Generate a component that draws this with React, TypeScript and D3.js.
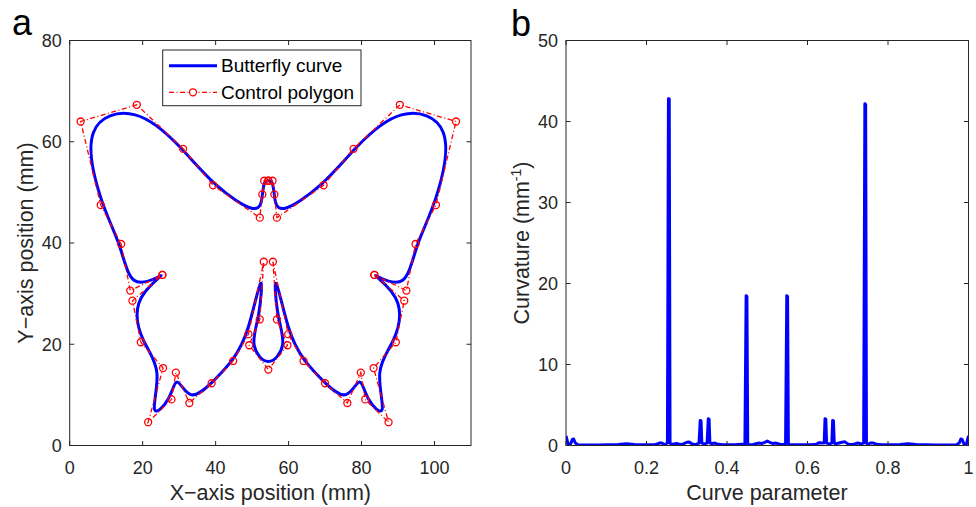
import React from "react";
import * as d3 from "d3";

// control polygon of the butterfly (mm)
const polyX = [
  54.45, 53.3, 52.8, 52.1, 39.3, 31.1, 18.4, 3.0, 8.5, 14.1, 16.6, 25.4, 25.4, 17.2, 19.5, 25.6, 21.5, 27.9, 29.1, 32.8,
  38.9, 44.8, 49.0, 53.2, 52.1, 49.2, 54.45, 59.7, 56.8, 55.7, 59.9, 64.1, 70.0, 76.1, 79.8, 81.0, 87.4, 83.3, 89.4,
  91.7, 83.5, 83.5, 92.3, 94.8, 100.4, 105.9, 90.5, 77.8, 69.6, 56.8, 56.1, 55.6, 54.45,
];
const polyY = [
  52.3, 52.3, 49.6, 45.0, 51.4, 58.6, 67.3, 64.0, 47.5, 39.8, 30.6, 33.7, 33.7, 28.6, 20.4, 15.3, 4.6, 9.1, 14.4, 8.4,
  12.3, 16.7, 22.0, 36.3, 24.9, 19.8, 15.0, 19.8, 24.9, 36.3, 22.0, 16.7, 12.3, 8.4, 14.4, 9.1, 4.6, 15.3, 20.4,
  28.6, 33.7, 33.7, 30.6, 39.8, 47.5, 64.0, 67.3, 58.6, 51.4, 45.0, 49.6, 52.3, 52.3,
];

// curvature vs curve parameter
const kT = [
  0, 0.005, 0.011, 0.016, 0.019, 0.023, 0.03, 0.08, 0.13, 0.15, 0.17, 0.22, 0.232, 0.238, 0.245, 0.252, 0.2545, 0.2565,
  0.2585, 0.262, 0.268, 0.275, 0.283, 0.292, 0.3, 0.306, 0.313, 0.322, 0.3305, 0.3335, 0.3355, 0.3375, 0.344, 0.3505,
  0.3535, 0.3555, 0.3575, 0.363, 0.37, 0.378, 0.39, 0.42, 0.4445, 0.4475, 0.4495, 0.4515, 0.4545, 0.465, 0.478, 0.487,
  0.494, 0.5, 0.506, 0.513, 0.522, 0.535, 0.5455, 0.5485, 0.5505, 0.5525, 0.5555, 0.58, 0.61, 0.622, 0.629, 0.636,
  0.6415, 0.6435, 0.6455, 0.6475, 0.654, 0.6605, 0.6625, 0.6645, 0.6665, 0.67, 0.678, 0.686, 0.693, 0.7, 0.708, 0.717,
  0.725, 0.733, 0.7395, 0.7425, 0.7445, 0.7465, 0.7495, 0.756, 0.764, 0.772, 0.785, 0.83, 0.85, 0.87, 0.92, 0.97,
  0.977, 0.981, 0.984, 0.989, 0.995, 1,
];
const kVal = [
  1.2, 0.2, 0.15, 0.75, 0.8, 0.3, 0.08, 0.06, 0.12, 0.22, 0.12, 0.08, 0.3, 0.32, 0.1, 0.3, 42.8, 42.8, 0.3, 0.15, 0.2,
  0.25, 0.12, 0.2, 0.4, 0.42, 0.2, 0.1, 0.3, 3.1, 3.05, 0.3, 0.2, 0.3, 3.3, 3.25, 0.3, 0.25, 0.3, 0.15, 0.08, 0.08, 0.2,
  18.5, 18.4, 0.2, 0.1, 0.12, 0.3, 0.25, 0.4, 0.55, 0.4, 0.25, 0.3, 0.1, 0.2, 18.5, 18.4, 0.2, 0.1, 0.08, 0.08, 0.15,
  0.35, 0.3, 0.3, 3.3, 3.25, 0.3, 0.2, 0.3, 3.1, 3.05, 0.3, 0.2, 0.3, 0.4, 0.45, 0.2, 0.1, 0.2, 0.3, 0.2, 0.3, 42.2,
  42.1, 0.3, 0.1, 0.3, 0.3, 0.15, 0.1, 0.12, 0.22, 0.12, 0.06, 0.08, 0.3, 0.8, 0.75, 0.15, 0.2, 1.2,
];

const xTicksA = [0, 20, 40, 60, 80, 100];
const yTicksA = [0, 20, 40, 60, 80];
const xTicksB = [0, 0.2, 0.4, 0.6, 0.8, 1];
const yTicksB = [0, 10, 20, 30, 40, 50];

const FONT = "'Liberation Sans', Arial, Helvetica, sans-serif";
const AX = "#262626";
const TOP = 40.5;
const BOTTOM = 445.5;
const TICK = 4.5;

type FrameProps = {
  x: d3.ScaleLinear<number, number>;
  y: d3.ScaleLinear<number, number>;
  xTicks: number[];
  yTicks: number[];
};

// MATLAB-like box with ticks inside on all four sides
function Frame({ x, y, xTicks, yTicks }: FrameProps) {
  const [x0, x1] = x.range();
  const [y0, y1] = y.range();
  return (
    <g>
      <rect x={x0} y={y1} width={x1 - x0} height={y0 - y1} fill="none" stroke={AX} strokeWidth={1} />
      {xTicks.map((t) => (
        <g key={"x" + t}>
          <line x1={x(t)} x2={x(t)} y1={y0} y2={y0 - TICK} stroke={AX} />
          <line x1={x(t)} x2={x(t)} y1={y1} y2={y1 + TICK} stroke={AX} />
          <text x={x(t)} y={y0 + 28.5} textAnchor="middle" fontSize={18} fill={AX}>
            {String(t)}
          </text>
        </g>
      ))}
      {yTicks.map((t) => (
        <g key={"y" + t}>
          <line x1={x0} x2={x0 + TICK} y1={y(t)} y2={y(t)} stroke={AX} />
          <line x1={x1} x2={x1 - TICK} y1={y(t)} y2={y(t)} stroke={AX} />
          <text x={x0 - 8} y={y(t) + 6.3} textAnchor="end" fontSize={18} fill={AX}>
            {String(t)}
          </text>
        </g>
      ))}
    </g>
  );
}

export default function App() {
  const xA = d3.scaleLinear().domain([0, 110]).range([69.7, 471]);
  const yA = d3.scaleLinear().domain([0, 80]).range([BOTTOM, TOP]);
  const xB = d3.scaleLinear().domain([0, 1]).range([566, 968.5]);
  const yB = d3.scaleLinear().domain([0, 50]).range([BOTTOM, TOP]);

  const pts: [number, number][] = polyX.map((v, i) => [v, polyY[i]]);
  const spline = d3
    .line<[number, number]>()
    .x((d) => xA(d[0]))
    .y((d) => yA(d[1]))
    .curve(d3.curveBasis)(pts);
  const polygon = d3
    .line<[number, number]>()
    .x((d) => xA(d[0]))
    .y((d) => yA(d[1]))(pts);

  const kPts: [number, number][] = kT.map((t, i) => [t, kVal[i]]);
  const kLine = d3
    .line<[number, number]>()
    .x((d) => xB(d[0]))
    .y((d) => yB(d[1]))(kPts);

  const dash = "5,2.5,1,2.5";

  return (
    <svg
      width={976}
      height={507}
      style={{ position: "absolute", left: 0, top: 0, background: "#fff" }}
      fontFamily={FONT}
    >
      <rect width={976} height={507} fill="#fff" />

      {/* panel a */}
      <defs>
        <clipPath id="clipA">
          <rect x={69.7} y={TOP} width={471 - 69.7} height={BOTTOM - TOP} />
        </clipPath>
        <clipPath id="clipB">
          <rect x={566} y={TOP} width={968.5 - 566} height={BOTTOM - TOP} />
        </clipPath>
      </defs>
      <g clipPath="url(#clipA)">
        <path d={spline ?? ""} fill="none" stroke="#0000ff" strokeWidth={3} strokeLinejoin="round" />
        <path d={polygon ?? ""} fill="none" stroke="#ff0000" strokeWidth={1.3} strokeDasharray={dash} />
        {pts.map((p, i) => (
          <circle key={i} cx={xA(p[0])} cy={yA(p[1])} r={3.5} fill="none" stroke="#ff0000" strokeWidth={1.3} />
        ))}
      </g>
      <Frame x={xA} y={yA} xTicks={xTicksA} yTicks={yTicksA} />

      {/* legend */}
      <rect x={162.7} y={50} width={198.3} height={55.7} fill="#fff" stroke={AX} strokeWidth={1} />
      <line x1={169} x2={217} y1={65.7} y2={65.7} stroke="#0000ff" strokeWidth={3} />
      <text x={221} y={72.3} fontSize={19} fill="#000">
        Butterfly curve
      </text>
      <line x1={169} x2={217} y1={92.3} y2={92.3} stroke="#ff0000" strokeWidth={1.3} strokeDasharray={dash} />
      <circle cx={193} cy={92.3} r={3.5} fill="#fff" stroke="#ff0000" strokeWidth={1.3} />
      <text x={221} y={99} fontSize={19} fill="#000">
        Control polygon
      </text>

      <text x={270.3} y={500} textAnchor="middle" fontSize={21.5} fill={AX}>
        X−axis position (mm)
      </text>
      <text transform={`translate(33,243) rotate(-90)`} textAnchor="middle" fontSize={21.5} fill={AX}>
        Y−axis position (mm)
      </text>
      <text x={12} y={35} fontSize={36} fill="#000">
        a
      </text>

      {/* panel b */}
      <g clipPath="url(#clipB)">
        <path d={kLine ?? ""} fill="none" stroke="#0000ff" strokeWidth={3} strokeLinejoin="round" />
      </g>
      <Frame x={xB} y={yB} xTicks={xTicksB} yTicks={yTicksB} />
      <text x={767} y={500} textAnchor="middle" fontSize={21.5} fill={AX}>
        Curve parameter
      </text>
      <text transform={`translate(529,243) rotate(-90)`} textAnchor="middle" fontSize={21.5} fill={AX}>
        Curvature (mm
        <tspan fontSize={14} dy={-8.5}>
          -1
        </tspan>
        <tspan dy={8.5}>)</tspan>
      </text>
      <text x={511} y={36} fontSize={36} fill="#000">
        b
      </text>
    </svg>
  );
}
